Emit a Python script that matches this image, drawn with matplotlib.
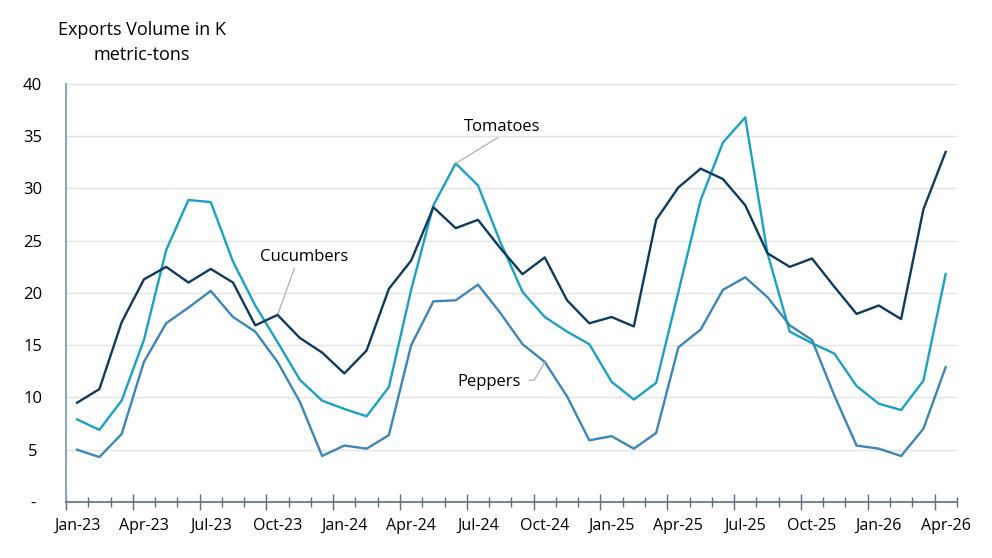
import numpy as np
import matplotlib
matplotlib.use("Agg")
import matplotlib.pyplot as plt
from matplotlib.ticker import FixedLocator, FuncFormatter

plt.rcParams['font.family'] = ['Open Sans', 'DejaVu Sans']

months = ['Jan-23', 'Feb-23', 'Mar-23', 'Apr-23', 'May-23', 'Jun-23', 'Jul-23', 'Aug-23', 'Sep-23', 'Oct-23', 'Nov-23', 'Dec-23',
          'Jan-24', 'Feb-24', 'Mar-24', 'Apr-24', 'May-24', 'Jun-24', 'Jul-24', 'Aug-24', 'Sep-24', 'Oct-24', 'Nov-24', 'Dec-24',
          'Jan-25', 'Feb-25', 'Mar-25', 'Apr-25', 'May-25', 'Jun-25', 'Jul-25', 'Aug-25', 'Sep-25', 'Oct-25', 'Nov-25', 'Dec-25',
          'Jan-26', 'Feb-26', 'Mar-26', 'Apr-26']

cucumbers = [9.5, 10.8, 17.2, 21.3, 22.5, 21.0, 22.3, 21.0, 16.9, 17.9, 15.7, 14.3,
             12.3, 14.5, 20.4, 23.1, 28.2, 26.2, 27.0, 24.3, 21.8, 23.4, 19.3, 17.1,
             17.7, 16.8, 27.0, 30.1, 31.9, 30.9, 28.4, 23.8, 22.5, 23.3, 20.6, 18.0,
             18.8, 17.5, 28.0, 33.5]
tomatoes = [7.9, 6.9, 9.7, 15.5, 24.1, 28.9, 28.7, 23.0, 18.8, 15.3, 11.7, 9.7,
            8.9, 8.2, 11.0, 20.3, 28.4, 32.4, 30.3, 24.9, 20.1, 17.7, 16.3, 15.1,
            11.5, 9.8, 11.4, 20.1, 28.9, 34.4, 36.8, 23.8, 16.3, 15.2, 14.2, 11.1,
            9.4, 8.8, 11.6, 21.8]
peppers = [5.0, 4.3, 6.5, 13.4, 17.1, 18.6, 20.2, 17.7, 16.3, 13.4, 9.6, 4.4,
           5.4, 5.1, 6.4, 15.0, 19.2, 19.3, 20.8, 18.1, 15.1, 13.4, 10.1, 5.9,
           6.3, 5.1, 6.6, 14.8, 16.5, 20.3, 21.5, 19.6, 16.9, 15.5, 10.2, 5.4,
           5.1, 4.4, 7.0, 12.9]

c_cuc = '#0e3a5f'
c_tom = '#1ba1c4'
c_pep = '#3d86b8'

x = np.arange(len(months))

fig = plt.figure(figsize=(9.92, 5.58), dpi=100)
ax = fig.add_axes([0.0665, 0.1004, 0.898, 0.7491])

ax.plot(x, tomatoes, color=c_tom, lw=1.7, zorder=3)
ax.plot(x, peppers, color=c_pep, lw=1.7, zorder=3)
ax.plot(x, cucumbers, color=c_cuc, lw=1.7, zorder=4)

ax.set_xlim(-0.5, len(months) - 0.5)
ax.set_ylim(0, 40)

# grid
ax.set_yticks(np.arange(0, 41, 5))
ax.yaxis.set_major_formatter(FuncFormatter(lambda v, p: '-' if v == 0 else f'{int(v)}'))
ax.grid(axis='y', color='#e3e3e3', lw=1)
ax.set_axisbelow(True)
ax.tick_params(axis='y', length=0, labelsize=12, pad=24)
for lab in ax.get_yticklabels():
    lab.set_horizontalalignment('center')

# x axis: ticks at category boundaries, labels every 3 months
ax.xaxis.set_major_locator(FixedLocator(np.arange(-0.5, len(months), 3)))
ax.xaxis.set_minor_locator(FixedLocator(np.arange(-0.5, len(months), 1)))
ax.xaxis.set_major_formatter(FuncFormatter(lambda v, p: ''))
ax.tick_params(axis='x', which='major', direction='inout', length=11, width=1, color='#5b6e80', labelsize=0)
ax.tick_params(axis='x', which='minor', direction='inout', length=7, width=1, color='#5b6e80')
for i in range(0, len(months), 3):
    ax.text(i, -1.5, months[i], ha='center', va='top', fontsize=11.5)

for s in ['top', 'right']:
    ax.spines[s].set_visible(False)
ax.spines['left'].set_color('#8fa8c0')
ax.spines['left'].set_linewidth(1.5)
ax.spines['bottom'].set_color('#5b6e80')
ax.spines['bottom'].set_linewidth(1.2)

# series labels with leader lines
ax.annotate('Cucumbers', xy=(9, cucumbers[9]), xytext=(10.2, 23.4), ha='center', va='center', fontsize=12,
            arrowprops=dict(arrowstyle='-', color='#b0b0b0', lw=0.9, shrinkA=0, shrinkB=0,
                            relpos=(0.4, 0)))
ax.annotate('Tomatoes', xy=(17, tomatoes[17]), xytext=(19.1, 35.9), ha='center', va='center', fontsize=12,
            arrowprops=dict(arrowstyle='-', color='#b0b0b0', lw=0.9, shrinkA=0, shrinkB=0,
                            relpos=(0.5, 0)))
ax.annotate('Peppers', xy=(21, peppers[21]), xytext=(18.5, 11.5), ha='center', va='center', fontsize=12,
            arrowprops=dict(arrowstyle='-', color='#b0b0b0', lw=0.9, shrinkA=4, shrinkB=0,
                            relpos=(1, 0.6), connectionstyle='angle,angleA=0,angleB=60,rad=0'))

fig.text(0.143, 0.962, 'Exports Volume in K\nmetric-tons', ha='center', va='top', fontsize=13, linespacing=1.5)

fig.savefig('out.png', dpi=100)
